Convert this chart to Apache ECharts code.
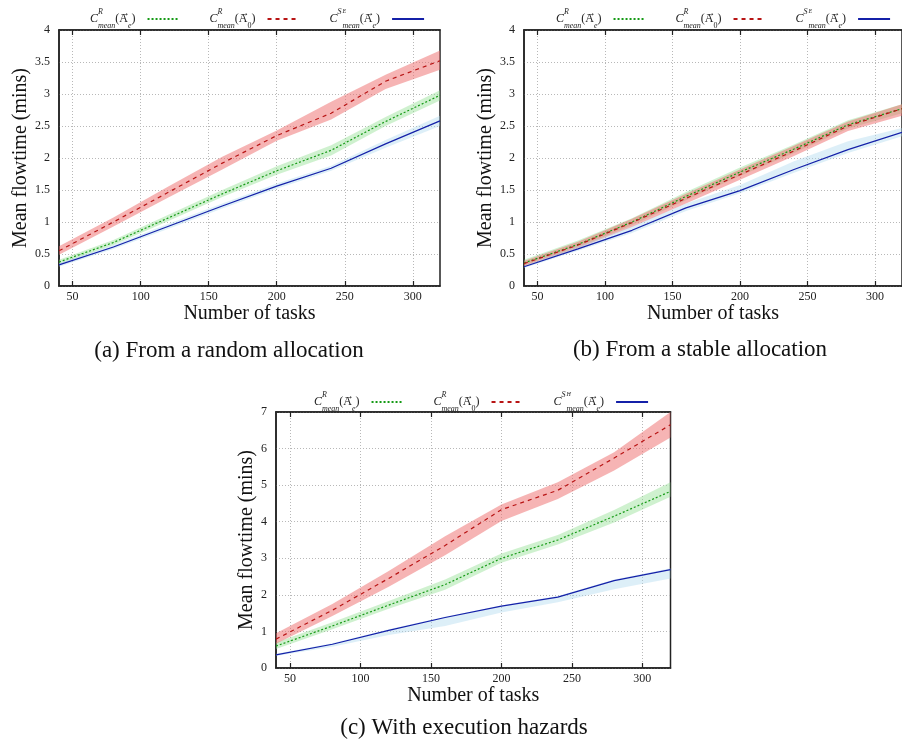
<!DOCTYPE html>
<html>
<head>
<meta charset="utf-8">
<script src="https://cdn.jsdelivr.net/npm/echarts@6/dist/echarts.min.js"></script>
<style>
html,body{margin:0;padding:0;background:#fff;}
#chart{width:902px;height:747px;}
</style>
</head>
<body>
<div id="chart"></div>
<script>
// ---------- data ----------
const tasks = [40, 80, 120, 160, 200, 240, 280, 320];
const xTickValues = [50, 100, 150, 200, 250, 300];

// (a) From a random allocation
const aRAe    = [0.375, 0.68, 1.06, 1.44, 1.80, 2.12, 2.57, 2.98];
const aRAe_lo = [0.34, 0.64, 1.01, 1.39, 1.74, 2.04, 2.50, 2.90];
const aRAe_hi = [0.41, 0.72, 1.11, 1.50, 1.87, 2.20, 2.64, 3.06];
const aRA0    = [0.55, 1.00, 1.46, 1.92, 2.35, 2.70, 3.20, 3.52];
const aRA0_lo = [0.49, 0.93, 1.38, 1.82, 2.27, 2.60, 3.08, 3.38];
const aRA0_hi = [0.62, 1.07, 1.55, 2.02, 2.43, 2.88, 3.30, 3.68];
const aS      = [0.33, 0.61, 0.93, 1.25, 1.56, 1.84, 2.22, 2.58];
const aS_lo   = [0.30, 0.58, 0.89, 1.21, 1.52, 1.80, 2.16, 2.50];
const aS_hi   = [0.36, 0.64, 0.97, 1.29, 1.60, 1.88, 2.28, 2.66];

// (b) From a stable allocation
const bRAe    = [0.36, 0.65, 1.00, 1.40, 1.78, 2.14, 2.52, 2.77];
const bRAe_lo = [0.32, 0.60, 0.95, 1.34, 1.72, 2.08, 2.46, 2.70];
const bRAe_hi = [0.41, 0.71, 1.06, 1.47, 1.85, 2.21, 2.59, 2.84];
const bRA0    = [0.35, 0.64, 0.99, 1.37, 1.74, 2.11, 2.50, 2.77];
const bRA0_lo = [0.31, 0.59, 0.92, 1.29, 1.66, 2.03, 2.42, 2.66];
const bRA0_hi = [0.39, 0.69, 1.05, 1.44, 1.82, 2.19, 2.57, 2.84];
const bS      = [0.30, 0.58, 0.87, 1.22, 1.49, 1.82, 2.13, 2.40];
const bS_lo   = [0.28, 0.55, 0.83, 1.17, 1.45, 1.77, 2.08, 2.34];
const bS_hi   = [0.32, 0.62, 0.93, 1.29, 1.58, 1.95, 2.26, 2.47];

// (c) With execution hazards
const cRAe    = [0.60, 1.15, 1.72, 2.28, 3.00, 3.50, 4.15, 4.83];
const cRAe_lo = [0.52, 1.06, 1.62, 2.14, 2.88, 3.38, 3.98, 4.68];
const cRAe_hi = [0.70, 1.25, 1.83, 2.42, 3.13, 3.64, 4.32, 5.08];
const cRA0    = [0.79, 1.58, 2.45, 3.35, 4.33, 4.86, 5.74, 6.65];
const cRA0_lo = [0.66, 1.42, 2.22, 3.08, 4.02, 4.62, 5.40, 6.30];
const cRA0_hi = [0.95, 1.75, 2.65, 3.60, 4.47, 5.08, 5.90, 7.00];
const cS      = [0.36, 0.65, 1.03, 1.38, 1.69, 1.94, 2.39, 2.69];
const cS_lo   = [0.33, 0.58, 0.90, 1.15, 1.52, 1.80, 2.15, 2.45];
const cS_hi   = [0.39, 0.68, 1.06, 1.40, 1.71, 1.97, 2.42, 2.73];

const captions = ['(a) From a random allocation', '(b) From a stable allocation', '(c) With execution hazards'];
const xTitle = 'Number of tasks';
const yTitle = 'Mean flowtime (mins)';
// legend labels (rich text): C^R_mean(A->e) etc.
const lblRAe = '{c|C}{sup|R}{sub|mean}{p|(}{arr|\u2192}{p|A}{sub|e}{p|)}{sp|}';
const lblRA0 = '{c|C}{sup|R}{sub|mean}{p|(}{arr|\u2192}{p|A}{p2|0}{p|)}{sp|}';
const lblSE  = '{c|C}{sup|S}{sup2|E}{sub|mean}{p|(}{arr|\u2192}{p|A}{sub|e}{p|)}{sp|}';
const lblSH  = '{c|C}{sup|S}{sup2|H}{sub|mean}{p|(}{arr|\u2192}{p|A}{sub|e}{p|)}{sp|}';

// ---------- styling ----------
const SERIF = '"Liberation Serif", "DejaVu Serif", serif';
const RED = '#b81414', GREEN = '#159a15', BLUE = '#1420a8';
const RED_BAND = 'rgba(238,105,105,0.5)', GREEN_BAND = 'rgba(140,222,140,0.42)', BLUE_BAND = 'rgba(165,212,236,0.38)';

const grids = [
  {left: 59, top: 30, width: 381, height: 256},
  {left: 524, top: 30, width: 381.5, height: 256},
  {left: 276, top: 412, width: 394.5, height: 256}
];
const yMax = [4, 4, 7];
const yInt = [0.5, 0.5, 1];
const yNameGap = [27.5, 28, 13];

const pairs = v => tasks.map((t, i) => [t, v[i]]);

const option = {
  backgroundColor: '#fff',
  animation: false,
  grid: grids.map(g => Object.assign({show: true, borderColor: '#222', borderWidth: 1.5, backgroundColor: 'transparent'}, g)),
  xAxis: [],
  yAxis: [],
  legend: [],
  series: [],
  graphic: []
};

grids.forEach((g, k) => {
  option.xAxis.push({
    type: 'value', gridIndex: k, min: 40, max: 320, position: 'bottom',
    name: xTitle, nameLocation: 'middle', nameGap: 14,
    nameTextStyle: {fontFamily: SERIF, fontSize: 20, color: '#111'},
    axisLine: {show: true, lineStyle: {color: '#222', width: 1.5}},
    axisTick: {show: true, inside: true, length: 5, customValues: xTickValues, lineStyle: {color: '#222', width: 1.2}},
    axisLabel: {show: true, customValues: xTickValues, margin: 5, fontFamily: SERIF, fontSize: 12, color: '#222'},
    splitLine: {show: true, lineStyle: {color: '#b8b8b8', width: 1, type: [1, 2]}}
  });
  option.xAxis.push({
    type: 'value', gridIndex: k, min: 40, max: 320, position: 'top',
    axisLine: {show: true, lineStyle: {color: '#222', width: 1.5}},
    axisTick: {show: true, inside: true, length: 5, customValues: xTickValues, lineStyle: {color: '#222', width: 1.2}},
    axisLabel: {show: false},
    splitLine: {show: false}
  });
  option.yAxis.push({
    type: 'value', gridIndex: k, min: 0, max: yMax[k], interval: yInt[k],
    name: yTitle, nameLocation: 'middle', nameGap: yNameGap[k],
    nameTextStyle: {fontFamily: SERIF, fontSize: 20, color: '#111'},
    axisLine: {show: true, lineStyle: {color: '#222', width: 1.5}},
    axisTick: {show: false},
    axisLabel: {margin: 9, fontFamily: SERIF, fontSize: 12, color: '#222'},
    splitLine: {show: true, lineStyle: {color: '#b8b8b8', width: 1, type: [1, 2]}}
  });
});

const chartsData = [
  {p: 'a', RAe: [aRAe, aRAe_lo, aRAe_hi], RA0: [aRA0, aRA0_lo, aRA0_hi], S: [aS, aS_lo, aS_hi], sLbl: lblSE},
  {p: 'b', RAe: [bRAe, bRAe_lo, bRAe_hi], RA0: [bRA0, bRA0_lo, bRA0_hi], S: [bS, bS_lo, bS_hi], sLbl: lblSE},
  {p: 'c', RAe: [cRAe, cRAe_lo, cRAe_hi], RA0: [cRA0, cRA0_lo, cRA0_hi], S: [cS, cS_lo, cS_hi], sLbl: lblSH}
];

const legendPos = [{left: 90, top: 8}, {left: 556, top: 8}, {left: 314, top: 391}];
const labelMap = {};
const T = '#222';
const rich = {
  c:    {fontFamily: SERIF, fontSize: 12, fontStyle: 'italic', color: T, align: 'left', lineHeight: 22},
  sup:  {fontFamily: SERIF, fontSize: 8, fontStyle: 'italic', color: T, align: 'left', verticalAlign: 'top', lineHeight: 12, width: 0},
  sup2: {fontFamily: SERIF, fontSize: 6, fontStyle: 'italic', color: T, align: 'left', verticalAlign: 'top', lineHeight: 15, width: 0, padding: [0, 0, 0, 5]},
  sub:  {fontFamily: SERIF, fontSize: 8, fontStyle: 'italic', color: T, align: 'left', verticalAlign: 'bottom', lineHeight: 10},
  p:    {fontFamily: SERIF, fontSize: 12, color: T, align: 'left', lineHeight: 22},
  arr:  {fontFamily: SERIF, fontSize: 11, color: T, align: 'left', verticalAlign: 'top', lineHeight: 7, width: 0},
  p2:   {fontFamily: SERIF, fontSize: 8, color: T, align: 'left', verticalAlign: 'bottom', lineHeight: 10},
  sp:   {width: 7, align: 'left'}
};

chartsData.forEach((cd, k) => {
  const xi = k * 2, yi = k;
  const band = (id, lo, hi, color) => {
    option.series.push({
      name: cd.p + id + '_band', type: 'custom', xAxisIndex: xi, yAxisIndex: yi,
      data: tasks.map((t, i) => [t, lo[i], hi[i]]),
      encode: {x: 0, y: [1, 2]},
      clip: true, silent: true, z: 1,
      renderItem: (params, api) => {
        if (params.dataIndex !== 0) return null;
        const pts = [];
        for (let i = 0; i < tasks.length; i++) pts.push(api.coord([tasks[i], hi[i]]));
        for (let i = tasks.length - 1; i >= 0; i--) pts.push(api.coord([tasks[i], lo[i]]));
        return {type: 'polygon', shape: {points: pts}, style: {fill: color, stroke: null}};
      }
    });
  };
  band('g', cd.RAe[1], cd.RAe[2], GREEN_BAND);
  band('r', cd.RA0[1], cd.RA0[2], RED_BAND);
  band('b', cd.S[1], cd.S[2], BLUE_BAND);

  const nG = cd.p + '_RAe', nR = cd.p + '_RA0', nB = cd.p + '_S';
  labelMap[nG] = lblRAe; labelMap[nR] = lblRA0; labelMap[nB] = cd.sLbl;
  option.series.push({
    name: nG, type: 'line', xAxisIndex: xi, yAxisIndex: yi, data: pairs(cd.RAe[0]), symbol: 'none',
    color: GREEN, lineStyle: {color: GREEN, width: 1.2, type: [2, 2]}, z: 3
  });
  option.series.push({
    name: nR, type: 'line', xAxisIndex: xi, yAxisIndex: yi, data: pairs(cd.RA0[0]), symbol: 'none',
    color: RED, lineStyle: {color: RED, width: 1.2, type: [4, 4]}, z: 3
  });
  option.series.push({
    name: nB, type: 'line', xAxisIndex: xi, yAxisIndex: yi, data: pairs(cd.S[0]), symbol: 'none',
    color: BLUE, lineStyle: {color: BLUE, width: 1.2}, z: 3
  });

  option.legend.push({
    data: [nG, nR, nB], left: legendPos[k].left, top: legendPos[k].top, width: 420, orient: 'horizontal',
    align: 'right', itemWidth: 32, itemHeight: 14, itemGap: 29, padding: 0,
    selectedMode: false,
    itemStyle: {opacity: 0, color: 'transparent', borderColor: 'transparent', borderWidth: 0},
    formatter: name => labelMap[name],
    textStyle: {fontFamily: SERIF, fontSize: 12, color: T, rich: rich}
  });
});

const capPos = [[229, 351], [700, 350], [464, 728]];
captions.forEach((t, k) => {
  option.graphic.push({
    type: 'text', x: capPos[k][0], y: capPos[k][1], silent: true,
    style: {text: t, fontFamily: SERIF, fontSize: 23, fill: '#111', textAlign: 'center', textVerticalAlign: 'middle'}
  });
});

const chart = echarts.init(document.getElementById('chart'), null, {renderer: 'canvas'});
chart.setOption(option);
</script>
</body>
</html>
